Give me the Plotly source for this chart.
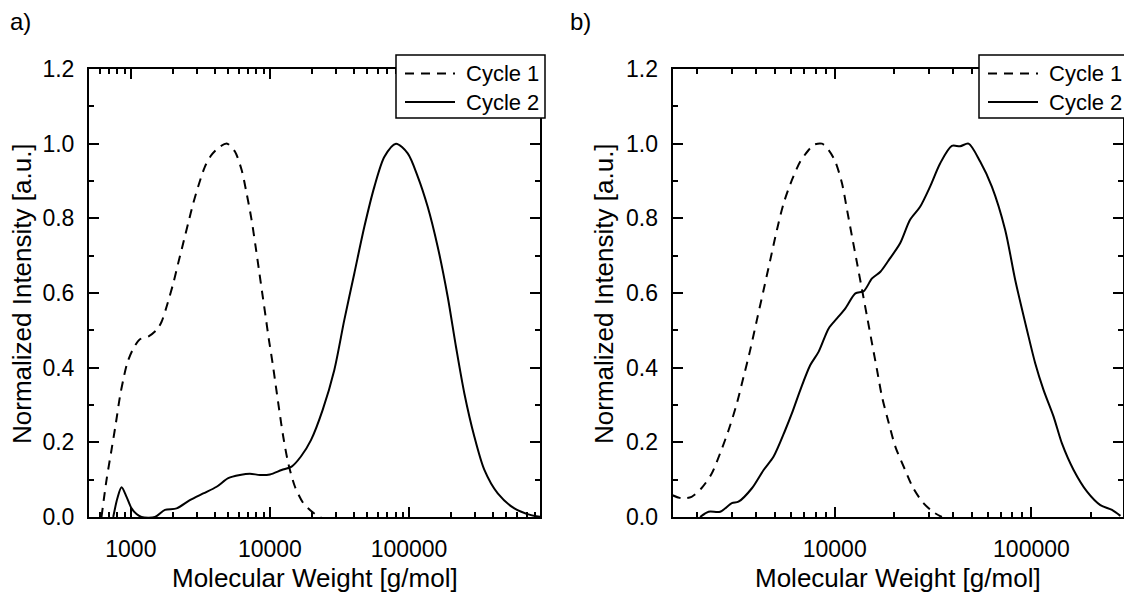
import math
import plotly.graph_objects as go

W, H = 1124, 594

# ---------------- data ----------------
# Panel a)
a_c1_mw = [615, 668, 726, 780, 834, 881, 941, 1028, 1161, 1334, 1531, 1663, 1806, 2018, 2190,
           2378, 2584, 2807, 3100, 3405, 3803, 4365, 4930, 5600, 6254, 6796, 7380, 7890, 8335,
           8810, 9310, 9840, 10450, 11040, 11660, 12470, 13550, 15140, 17380, 19500, 21500, 23300]
a_c1_int = [0.0, 0.099, 0.18, 0.251, 0.322, 0.367, 0.412, 0.447, 0.476, 0.483, 0.501, 0.523, 0.563,
            0.626, 0.680, 0.733, 0.787, 0.840, 0.894, 0.938, 0.970, 0.992, 1.0, 0.979, 0.930, 0.867,
            0.796, 0.724, 0.662, 0.599, 0.537, 0.474, 0.412, 0.349, 0.287, 0.215, 0.144, 0.081,
            0.037, 0.018, 0.006, 0.0]
a_c2_mw = [747, 800, 857, 931, 1012, 1099, 1194, 1490, 1758, 2134, 2655, 3313, 4137, 5015, 6083,
           7180, 8470, 10000, 12140, 14320, 16700, 19730, 23950, 29040, 34270, 40470, 47780, 56390,
           66550, 80600, 97900, 115600, 136300, 160800, 189800, 217700, 250100, 295200, 348400,
           434700, 572400, 755000, 891000]
a_c2_int = [0.0, 0.05, 0.0795, 0.054, 0.023, 0.008, 0.0, 0.0, 0.019, 0.023, 0.045, 0.063, 0.081,
            0.104, 0.1125, 0.116, 0.1125, 0.114, 0.126, 0.135, 0.162, 0.206, 0.287, 0.394, 0.528,
            0.653, 0.778, 0.885, 0.965, 1.0, 0.974, 0.912, 0.831, 0.724, 0.590, 0.456, 0.331, 0.215,
            0.126, 0.063, 0.023, 0.005, 0.0]

# Panel b)
b_c1_mw = [1486, 1671, 1873, 2103, 2375, 2617, 2890, 3185, 3444, 3719, 4023, 4351, 4702, 5085,
           5500, 6064, 6683, 7373, 7820, 8614, 9318, 10070, 10890, 11560, 12250, 12990, 13780,
           14600, 15480, 16410, 17400, 18840, 20350, 22800, 25100, 28250, 31750, 35050]
b_c1_int = [0.059, 0.050, 0.054, 0.077, 0.117, 0.171, 0.233, 0.305, 0.376, 0.447, 0.528, 0.608,
            0.688, 0.769, 0.840, 0.903, 0.952, 0.983, 0.997, 1.0, 0.983, 0.952, 0.894, 0.822,
            0.751, 0.680, 0.608, 0.537, 0.465, 0.394, 0.322, 0.251, 0.188, 0.126, 0.077, 0.037,
            0.013, 0.0]
b_c2_mw = [2070, 2286, 2617, 3000, 3243, 3795, 4351, 4893, 5608, 6064, 6683, 7517, 8293, 9318,
           10270, 11330, 12740, 14050, 15480, 17070, 18830, 21500, 24160, 27170, 30540, 34340,
           39380, 43420, 47900, 54870, 62920, 73550, 82710, 94900, 104500, 115300, 129600, 142900,
           163800, 191700, 224000, 256800, 283300]
b_c2_int = [0.0, 0.014, 0.014, 0.037, 0.041, 0.077, 0.126, 0.162, 0.233, 0.278, 0.340, 0.407,
            0.443, 0.505, 0.532, 0.559, 0.599, 0.605, 0.639, 0.657, 0.688, 0.733, 0.796, 0.831,
            0.885, 0.947, 0.994, 0.993, 1.0, 0.952, 0.885, 0.769, 0.635, 0.501, 0.412, 0.340,
            0.269, 0.197, 0.126, 0.068, 0.032, 0.019, 0.003]

series_names = ["Cycle 1", "Cycle 2"]
panel_labels = ["a)", "b)"]
x_title = "Molecular Weight [g/mol]"
y_title = "Normalized Intensity [a.u.]"
x_tickvals = [1000, 10000, 100000]
x_ticktext = ["1000", "10000", "100000"]
y_tickvals = [0.0, 0.2, 0.4, 0.6, 0.8, 1.0, 1.2]
y_ticktext = ["0.0", "0.2", "0.4", "0.6", "0.8", "1.0", "1.2"]
a_xrange = (500, 875000)
b_xrange = (1500, 292000)

FONT = "Liberation Sans, Arial, sans-serif"
DASH = "9px,7px"


def px(x):
    return x / W


def py(y):
    return 1 - y / H


minor_vals = [k * 10 ** e for e in range(2, 6) for k in range(2, 10)]

fig = go.Figure()
for (mw, it, dash, xa, ya) in [
    (a_c1_mw, a_c1_int, DASH, "x", "y"),
    (a_c2_mw, a_c2_int, "solid", "x", "y"),
    (b_c1_mw, b_c1_int, DASH, "x2", "y2"),
    (b_c2_mw, b_c2_int, "solid", "x2", "y2"),
]:
    fig.add_trace(go.Scatter(
        x=mw, y=it, mode="lines", xaxis=xa, yaxis=ya, showlegend=False,
        line=dict(color="black", width=2, dash=dash, shape="spline", smoothing=0.8),
        hoverinfo="skip"))

common_x = dict(
    type="log", showgrid=False, zeroline=False, showline=True, linecolor="black", linewidth=2,
    mirror="allticks", ticks="inside", ticklen=10, tickwidth=2, tickcolor="black",
    tickmode="array", tickvals=x_tickvals, ticktext=x_ticktext,
    tickfont=dict(family=FONT, size=23, color="black"), ticklabelstandoff=10,
    minor=dict(tickmode="array", tickvals=minor_vals, ticks="inside", ticklen=5, tickwidth=2,
               tickcolor="black", showgrid=False),
)
common_y = dict(
    range=[0, 1.2], showgrid=False, zeroline=False, showline=True, linecolor="black", linewidth=2,
    mirror="allticks", ticks="inside", ticklen=10, tickwidth=2, tickcolor="black",
    tickmode="array", tickvals=y_tickvals, ticktext=y_ticktext,
    tickfont=dict(family=FONT, size=23, color="black"), ticklabelstandoff=8,
    minor=dict(dtick=0.1, ticks="inside", ticklen=5, tickwidth=2, tickcolor="black",
               showgrid=False),
)

ydom = [py(517), py(69)]
fig.update_layout(
    width=W, height=H, paper_bgcolor="white", plot_bgcolor="white",
    margin=dict(l=0, r=0, t=0, b=0, autoexpand=False),
    showlegend=False,
    xaxis=dict(common_x, domain=[px(89), px(540)],
               range=[math.log10(a_xrange[0]), math.log10(a_xrange[1])], anchor="y"),
    yaxis=dict(common_y, domain=ydom, anchor="x"),
    xaxis2=dict(common_x, domain=[px(672.6), px(1123)],
                range=[math.log10(b_xrange[0]), math.log10(b_xrange[1])], anchor="y2"),
    yaxis2=dict(common_y, domain=ydom, anchor="x2"),
)

annotations = []
shapes = []
panels = [(89, 540, 22, 8), (672.6, 1123, 604, 568)]
for i, (x0, x1, ytx, lblx) in enumerate(panels):
    annotations.append(dict(text=x_title, x=px((x0 + x1) / 2), y=py(578), xref="paper",
                            yref="paper", xanchor="center", yanchor="middle", showarrow=False,
                            font=dict(family=FONT, size=26, color="black")))
    annotations.append(dict(text=y_title, x=px(ytx), y=py(294), xref="paper", yref="paper",
                            xanchor="center", yanchor="middle", showarrow=False, textangle=-90,
                            font=dict(family=FONT, size=26, color="black")))
    annotations.append(dict(text=panel_labels[i], x=px(lblx), y=py(22), xref="paper",
                            yref="paper", xanchor="left", yanchor="middle", showarrow=False,
                            font=dict(family=FONT, size=24, color="black")))
    # legend box
    bx0 = x1 - 144
    bx1 = bx0 + 149
    shapes.append(dict(type="rect", xref="paper", yref="paper", x0=px(bx0), x1=px(bx1),
                       y0=py(118), y1=py(55), line=dict(color="black", width=1.5),
                       fillcolor="white", layer="above"))
    for j, (yy, dash) in enumerate([(73.5, DASH), (102, "solid")]):
        shapes.append(dict(type="line", xref="paper", yref="paper", x0=px(bx0 + 9),
                           x1=px(bx0 + 59), y0=py(yy), y1=py(yy),
                           line=dict(color="black", width=2, dash=dash), layer="above"))
        annotations.append(dict(text=series_names[j], x=px(bx0 + 68), y=py(yy), xref="paper",
                                yref="paper", xanchor="left", yanchor="middle", showarrow=False,
                                font=dict(family=FONT, size=22, color="black")))

fig.update_layout(annotations=annotations, shapes=shapes)
fig.write_html("out.html")
